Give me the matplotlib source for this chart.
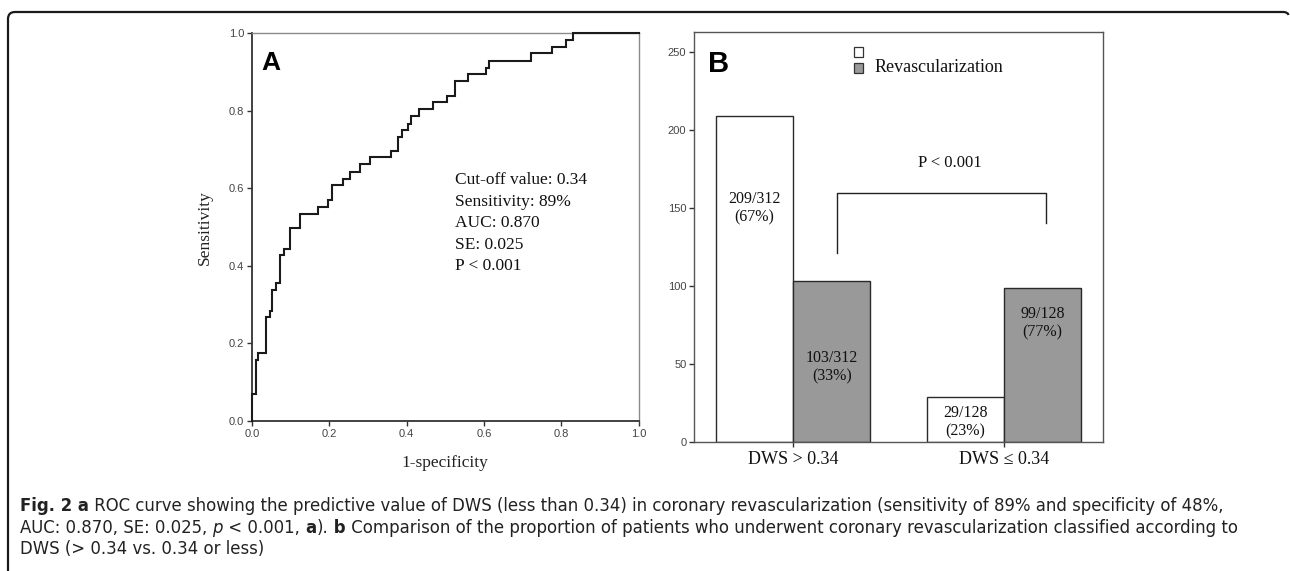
import matplotlib
matplotlib.use("Agg")
import matplotlib.pyplot as plt
from matplotlib import font_manager
from matplotlib.patches import Rectangle, PathPatch
from matplotlib.path import Path
import numpy as np

# ---------------- data ----------------
roc_fpr = [0.000, 0.000, 0.010, 0.016, 0.037, 0.047, 0.053, 0.062, 0.072, 0.083,
           0.098, 0.125, 0.171, 0.197, 0.208, 0.235, 0.253, 0.280, 0.306, 0.360,
           0.379, 0.387, 0.404, 0.412, 0.432, 0.469, 0.505, 0.525, 0.560, 0.605,
           0.614, 0.721, 0.775, 0.812, 0.830, 1.000]
roc_tpr = [0.000, 0.069, 0.157, 0.176, 0.267, 0.284, 0.338, 0.356, 0.427, 0.444,
           0.497, 0.534, 0.553, 0.571, 0.608, 0.625, 0.642, 0.662, 0.681, 0.696,
           0.733, 0.750, 0.767, 0.786, 0.804, 0.822, 0.839, 0.877, 0.894, 0.911,
           0.928, 0.948, 0.965, 0.983, 1.000, 1.000]
roc_stats = ["Cut-off value: 0.34", "Sensitivity: 89%", "AUC: 0.870", "SE: 0.025", "P < 0.001"]
roc_ticks = [0.0, 0.2, 0.4, 0.6, 0.8, 1.0]

groups = ["DWS > 0.34", "DWS \u2264 0.34"]
no_revasc = [209, 29]
revasc = [103, 99]
no_revasc_labels = ["209/312\n(67%)", "29/128\n(23%)"]
revasc_labels = ["103/312\n(33%)", "99/128\n(77%)"]
bar_label_y_no = [150, 13]
bar_label_y_re = [48, 76]
bar_ticks = [0, 50, 100, 150, 200, 250]
p_text = "P < 0.001"
legend_label = "Revascularization"

# ---------------- fonts ----------------
names = {f.name for f in font_manager.fontManager.ttflist}
SERIF = ["Liberation Serif", "DejaVu Serif"]
SANS = ["Liberation Sans", "DejaVu Sans"]
if "Liberation Sans Narrow" in names:
    CAP_FAMILY = ["Liberation Sans Narrow", "DejaVu Sans"]
    CAP_STRETCH = "normal"
else:
    CAP_FAMILY = ["DejaVu Sans"]
    CAP_STRETCH = "condensed"

W, H = 1290, 571
fig = plt.figure(figsize=(W / 100, H / 100), dpi=100)
fig.patch.set_facecolor("white")


def fx(px):
    return px / W


def fy(py):
    return 1 - py / H


# ---------------- Panel A: ROC ----------------
axA = fig.add_axes([fx(252), fy(421), (638.5 - 252) / W, (421 - 33.3) / H])
axA.plot(roc_fpr, roc_tpr, drawstyle="steps-post", color="#1a1a1a", lw=1.5,
         solid_joinstyle="miter", clip_on=False, zorder=3)
axA.set_xlim(0, 1)
axA.set_ylim(0, 1)
axA.set_xticks(roc_ticks)
axA.set_yticks(roc_ticks)
axA.set_xticklabels([f"{t:.1f}" for t in roc_ticks], fontfamily=SANS, fontsize=8, color="#444444")
axA.set_yticklabels([f"{t:.1f}" for t in roc_ticks], fontfamily=SANS, fontsize=8, color="#444444")
axA.tick_params(direction="out", length=3.5, width=1, color="#333333", pad=2)
for s in ["left", "bottom"]:
    axA.spines[s].set_color("#333333")
    axA.spines[s].set_linewidth(1.3)
for s in ["top", "right"]:
    axA.spines[s].set_color("#8a8a8a")
    axA.spines[s].set_linewidth(1.0)
axA.text(0.025, 0.955, "A", transform=axA.transAxes, fontfamily=SANS, fontweight="bold",
         fontsize=19, va="top", ha="left")
ys = [180, 202, 223, 245, 266]
for s, yp in zip(roc_stats, ys):
    axA.text((455 - 252) / 386.5, (421 - yp) / 387.7, s, transform=axA.transAxes,
             fontfamily=SERIF, fontsize=12.5, va="center", ha="left", color="#111111")
axA.text(-0.122, 0.5, "Sensitivity", transform=axA.transAxes, rotation=90,
         fontfamily=SERIF, fontsize=12.5, va="center", ha="center", color="#222222")
axA.text(0.5, (421 - 463) / 387.7, "1-specificity", transform=axA.transAxes,
         fontfamily=SERIF, fontsize=12.5, va="center", ha="center", color="#222222")

# ---------------- Panel B: bars ----------------
axB = fig.add_axes([fx(694), fy(442), (1103 - 694) / W, (442 - 32) / H])
x = np.arange(len(groups))
w = 0.366
axB.bar(x - w / 2, no_revasc, width=w, color="white", edgecolor="#2a2a2a", linewidth=1.0, zorder=2)
axB.bar(x + w / 2, revasc, width=w, color="#999999", edgecolor="#2a2a2a", linewidth=1.0, zorder=2)
for i in range(len(groups)):
    axB.text(x[i] - w / 2, bar_label_y_no[i], no_revasc_labels[i], ha="center", va="center",
             fontfamily=SERIF, fontsize=11.5, linespacing=1.2, color="#111111")
    axB.text(x[i] + w / 2, bar_label_y_re[i], revasc_labels[i], ha="center", va="center",
             fontfamily=SERIF, fontsize=11.5, linespacing=1.2, color="#111111")
axB.set_xlim(-0.47, 1.47)
axB.set_ylim(0, 262.8)
axB.set_yticks(bar_ticks)
axB.set_yticklabels([str(t) for t in bar_ticks], fontfamily=SANS, fontsize=8, color="#444444")
axB.set_xticks(x)
axB.set_xticklabels(groups, fontfamily=SERIF, fontsize=13, color="#111111")
axB.tick_params(axis="y", direction="out", length=3.5, width=1, color="#333333", pad=2)
axB.tick_params(axis="x", direction="out", length=3.5, width=1, color="#333333", pad=3)
for s in axB.spines.values():
    s.set_color("#555555")
    s.set_linewidth(1.0)
# significance bracket
axB.plot([0.21, 0.21, 1.20, 1.20], [121, 159.6, 159.6, 140.4], color="#222222", lw=1.0)
axB.text(0.745, 178.8, p_text, ha="center", va="center", fontfamily=SERIF, fontsize=12,
         color="#111111")
axB.text(0.035, 0.955, "B", transform=axB.transAxes, fontfamily=SANS, fontweight="bold",
         fontsize=21, va="top", ha="left")
# legend
sq_w = 9 / 409
sq_h = 9 / 410
for yc, col in [((442 - 52) / 410, "white"), ((442 - 68) / 410, "#999999")]:
    axB.add_patch(Rectangle((0.401 - sq_w / 2, yc - sq_h / 2), sq_w, sq_h, transform=axB.transAxes,
                            facecolor=col, edgecolor="#333333", lw=0.9, clip_on=False))
axB.text((875 - 694) / 409, (442 - 68) / 410, legend_label, transform=axB.transAxes,
         fontfamily=SERIF, fontsize=13, va="center", ha="left", color="#111111")

# ---------------- frame ----------------
r = 7
verts = [(8, H), (8, 12 + r), (8, 12), (8 + r, 12), (1284, 12), (1288, 12.5), (1288.5, 15)]
codes = [Path.MOVETO, Path.LINETO, Path.CURVE3, Path.CURVE3, Path.LINETO, Path.CURVE3, Path.CURVE3]
verts_f = [(fx(a), fy(b)) for a, b in verts]
fig.add_artist(PathPatch(Path(verts_f, codes), transform=fig.transFigure, fill=False,
                         edgecolor="#1a1a1a", lw=1.6))

# ---------------- caption ----------------
renderer = fig.canvas.get_renderer()
CAP_SIZE = 13.2
base = dict(fontfamily=CAP_FAMILY, fontstretch=CAP_STRETCH, fontsize=CAP_SIZE, color="#222222")


def rich_line(segments, x_px, y_px):
    xp = x_px
    for txt, extra in segments:
        props = dict(base)
        props.update(extra)
        t = fig.text(fx(xp), fy(y_px), txt, ha="left", va="baseline", **props)
        bb = t.get_window_extent(renderer)
        xp += bb.width


B = {"fontweight": "bold"}
N = {}
I = {"fontstyle": "italic"}
rich_line([("Fig. 2", B), (" a", B),
           (" ROC curve showing the predictive value of DWS (less than 0.34) in coronary "
            "revascularization (sensitivity of 89% and specificity of 48%,", N)], 20, 511)
rich_line([("AUC: 0.870, SE: 0.025, ", N), ("p", I), (" < 0.001, ", N), ("a", B), (").", N),
           (" b", B),
           (" Comparison of the proportion of patients who underwent coronary revascularization "
            "classified according to", N)], 20, 533)
rich_line([("DWS (> 0.34 vs. 0.34 or less)", N)], 20, 554)

fig.savefig("out.png", dpi=100, facecolor="white")
